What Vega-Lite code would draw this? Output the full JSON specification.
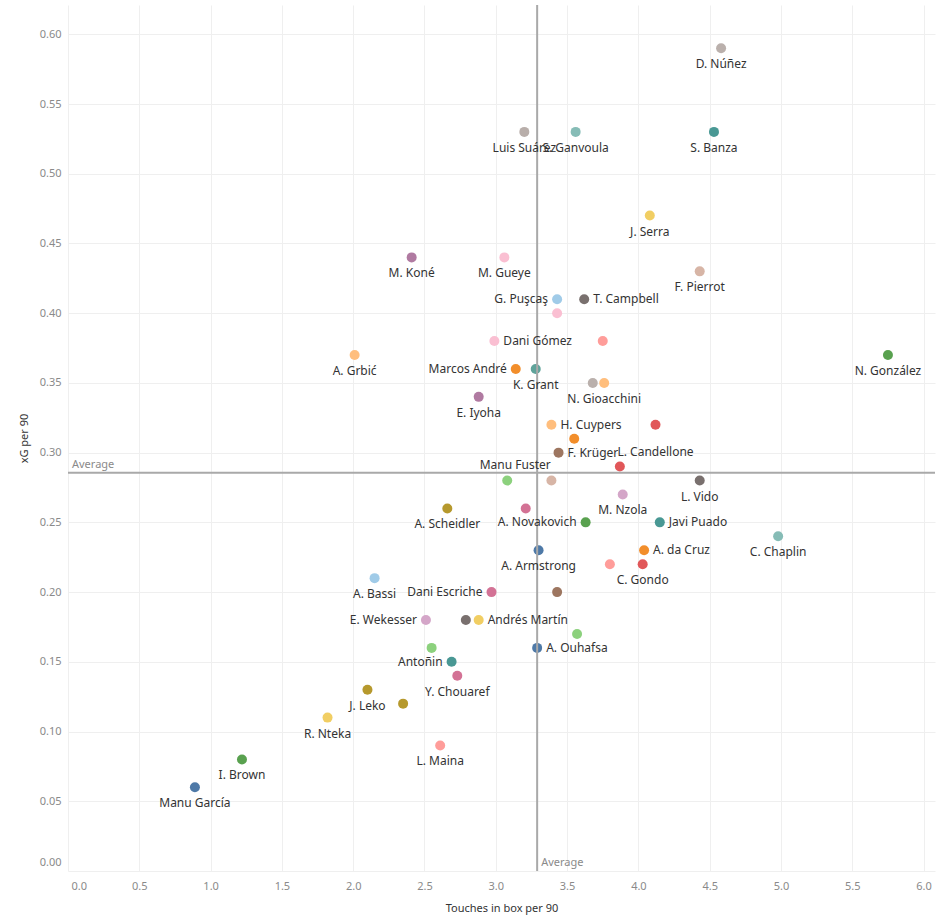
{
  "$schema": "https://vega.github.io/schema/vega-lite/v6.json",
  "width": 867,
  "height": 866,
  "autosize": "none",
  "padding": {"left": 68, "top": 5, "right": 10, "bottom": 53},
  "background": "white",
  "config": {"view": {"stroke": null}, "font": "Noto Sans"},
  "datasets": {
    "players": [
      {"id": 1, "label": "D. Núñez", "touches": 4.58, "xg": 0.59},
      {"id": 2, "label": "Luis Suárez", "touches": 3.20, "xg": 0.53},
      {"id": 3, "label": "S. Ganvoula", "touches": 3.56, "xg": 0.53},
      {"id": 4, "label": "S. Banza", "touches": 4.53, "xg": 0.53},
      {"id": 5, "label": "J. Serra", "touches": 4.08, "xg": 0.47},
      {"id": 6, "label": "M. Koné", "touches": 2.41, "xg": 0.44},
      {"id": 7, "label": "M. Gueye", "touches": 3.06, "xg": 0.44},
      {"id": 8, "label": "F. Pierrot", "touches": 4.43, "xg": 0.43},
      {"id": 9, "label": "G. Puşcaş", "touches": 3.43, "xg": 0.41},
      {"id": 10, "label": "T. Campbell", "touches": 3.62, "xg": 0.41},
      {"id": 11, "label": "", "touches": 3.43, "xg": 0.40},
      {"id": 12, "label": "Dani Gómez", "touches": 2.99, "xg": 0.38},
      {"id": 13, "label": "", "touches": 3.75, "xg": 0.38},
      {"id": 14, "label": "A. Grbić", "touches": 2.01, "xg": 0.37},
      {"id": 15, "label": "N. González", "touches": 5.75, "xg": 0.37},
      {"id": 16, "label": "Marcos André", "touches": 3.14, "xg": 0.36},
      {"id": 17, "label": "K. Grant", "touches": 3.28, "xg": 0.36},
      {"id": 18, "label": "", "touches": 3.68, "xg": 0.35},
      {"id": 19, "label": "N. Gioacchini", "touches": 3.76, "xg": 0.35},
      {"id": 20, "label": "E. Iyoha", "touches": 2.88, "xg": 0.34},
      {"id": 21, "label": "H. Cuypers", "touches": 3.39, "xg": 0.32},
      {"id": 22, "label": "L. Candellone", "touches": 4.12, "xg": 0.32},
      {"id": 23, "label": "", "touches": 3.55, "xg": 0.31},
      {"id": 24, "label": "F. Krüger", "touches": 3.44, "xg": 0.30},
      {"id": 25, "label": "", "touches": 3.87, "xg": 0.29},
      {"id": 26, "label": "Manu Fuster", "touches": 3.08, "xg": 0.28},
      {"id": 27, "label": "", "touches": 3.39, "xg": 0.28},
      {"id": 28, "label": "L. Vido", "touches": 4.43, "xg": 0.28},
      {"id": 29, "label": "M. Nzola", "touches": 3.89, "xg": 0.27},
      {"id": 30, "label": "A. Scheidler", "touches": 2.66, "xg": 0.26},
      {"id": 31, "label": "", "touches": 3.21, "xg": 0.26},
      {"id": 32, "label": "A. Novakovich", "touches": 3.63, "xg": 0.25},
      {"id": 33, "label": "Javi Puado", "touches": 4.15, "xg": 0.25},
      {"id": 34, "label": "C. Chaplin", "touches": 4.98, "xg": 0.24},
      {"id": 35, "label": "A. Armstrong", "touches": 3.30, "xg": 0.23},
      {"id": 36, "label": "A. da Cruz", "touches": 4.04, "xg": 0.23},
      {"id": 37, "label": "", "touches": 3.80, "xg": 0.22},
      {"id": 38, "label": "C. Gondo", "touches": 4.03, "xg": 0.22},
      {"id": 39, "label": "A. Bassi", "touches": 2.15, "xg": 0.21},
      {"id": 40, "label": "Dani Escriche", "touches": 2.97, "xg": 0.20},
      {"id": 41, "label": "", "touches": 3.43, "xg": 0.20},
      {"id": 42, "label": "E. Wekesser", "touches": 2.51, "xg": 0.18},
      {"id": 43, "label": "", "touches": 2.79, "xg": 0.18},
      {"id": 44, "label": "Andrés Martín", "touches": 2.88, "xg": 0.18},
      {"id": 45, "label": "", "touches": 3.57, "xg": 0.17},
      {"id": 46, "label": "A. Ouhafsa", "touches": 3.29, "xg": 0.16},
      {"id": 47, "label": "", "touches": 2.55, "xg": 0.16},
      {"id": 48, "label": "Antoñin", "touches": 2.69, "xg": 0.15},
      {"id": 49, "label": "Y. Chouaref", "touches": 2.73, "xg": 0.14},
      {"id": 50, "label": "J. Leko", "touches": 2.10, "xg": 0.13},
      {"id": 51, "label": "", "touches": 2.35, "xg": 0.12},
      {"id": 52, "label": "R. Nteka", "touches": 1.82, "xg": 0.11},
      {"id": 53, "label": "L. Maina", "touches": 2.61, "xg": 0.09},
      {"id": 54, "label": "I. Brown", "touches": 1.22, "xg": 0.08},
      {"id": 55, "label": "Manu García", "touches": 0.89, "xg": 0.06}
    ],
    "avg": [{"touches": 3.29, "xg": 0.2855}]
  },
  "layer": [
    {
      "data": {"name": "players"},
      "mark": {"type": "circle", "size": 100, "opacity": 1},
      "encoding": {
        "x": {
          "field": "touches", "type": "quantitative", "title": "Touches in box per 90",
          "scale": {"domain": [0, 6.08], "nice": false, "zero": false},
          "axis": {
            "values": [0, 0.5, 1, 1.5, 2, 2.5, 3, 3.5, 4, 4.5, 5, 5.5, 6],
            "format": ".1f", "grid": true, "gridColor": "#efefef", "domain": false, "ticks": false,
            "labelFlush": true, "labelFlushOffset": -3, "labelColor": "#8a8a8a", "labelFontSize": 11, "labelPadding": 9,
            "titleFontSize": 11, "titleFontWeight": "normal", "titleColor": "#333333", "titlePadding": 11
          }
        },
        "y": {
          "field": "xg", "type": "quantitative", "title": "xG per 90",
          "scale": {"domain": [0, 0.621], "nice": false, "zero": false},
          "axis": {
            "values": [0, 0.05, 0.1, 0.15, 0.2, 0.25, 0.3, 0.35, 0.4, 0.45, 0.5, 0.55, 0.6],
            "format": ".2f", "grid": true, "gridColor": "#efefef", "domain": false, "ticks": false,
            "labelFlush": true, "labelFlushOffset": -4, "labelColor": "#8a8a8a", "labelFontSize": 11, "labelPadding": 7,
            "titleFontSize": 11, "titleFontWeight": "normal", "titleColor": "#333333", "titlePadding": 10
          }
        },
        "color": {
          "field": "id", "type": "nominal", "legend": null,
          "scale": {
            "domain": [1,2,3,4,5,6,7,8,9,10,11,12,13,14,15,16,17,18,19,20,21,22,23,24,25,26,27,28,29,30,31,32,33,34,35,36,37,38,39,40,41,42,43,44,45,46,47,48,49,50,51,52,53,54,55],
            "range": ["#BAB0AC","#B8AEAA","#86BCB6","#499894","#F1CE63","#B07AA1","#FABFD2","#D7B5A6","#A0CBE8","#79706E","#FABFD2","#FABFD2","#FF9D9A","#FFBE7D","#59A14F","#F28E2B","#5FA39A","#BAB0AC","#FFBE7D","#B07AA1","#FFBE7D","#E15759","#F28E2B","#9D7660","#E15759","#8CD17D","#D7B5A6","#79706E","#D4A6C8","#B6992D","#D37295","#59A14F","#499894","#86BCB6","#4E79A7","#F28E2B","#FF9D9A","#E15759","#A0CBE8","#D37295","#9D7660","#D4A6C8","#79706E","#F1CE63","#8CD17D","#4E79A7","#8CD17D","#499894","#D37295","#B6992D","#B6992D","#F1CE63","#FF9D9A","#59A14F","#4E79A7"]
          }
        }
      }
    },
    {
      "data": {"name": "avg"},
      "mark": {"type": "rule", "color": "#a9a9a9", "strokeWidth": 2},
      "encoding": {"x": {"field": "touches", "type": "quantitative", "title": "Touches in box per 90"}}
    },
    {
      "data": {"name": "avg"},
      "mark": {"type": "rule", "color": "#a9a9a9", "strokeWidth": 2},
      "encoding": {"y": {"field": "xg", "type": "quantitative", "title": "xG per 90"}}
    },
    {
      "data": {"name": "avg"},
      "mark": {"type": "text", "text": "Average", "align": "left", "baseline": "bottom", "dx": 4, "dy": -3, "fontSize": 11, "color": "#8a8a8a"},
      "encoding": {
        "x": {"datum": 0, "type": "quantitative"},
        "y": {"field": "xg", "type": "quantitative", "title": "xG per 90"}
      }
    },
    {
      "data": {"name": "avg"},
      "mark": {"type": "text", "text": "Average", "align": "left", "baseline": "bottom", "dx": 4, "dy": -3, "fontSize": 11, "color": "#8a8a8a"},
      "encoding": {
        "x": {"field": "touches", "type": "quantitative", "title": "Touches in box per 90"},
        "y": {"datum": 0, "type": "quantitative"}
      }
    },
    {
      "data": {"name": "players"},
      "transform": [{"filter": {"field": "label", "oneOf": ["D. Núñez","Luis Suárez","S. Ganvoula","S. Banza","J. Serra","M. Koné","M. Gueye","F. Pierrot","A. Grbić","N. González","K. Grant","N. Gioacchini","E. Iyoha","L. Vido","M. Nzola","A. Scheidler","C. Chaplin","A. Armstrong","C. Gondo","A. Bassi","Y. Chouaref","J. Leko","R. Nteka","L. Maina","I. Brown","Manu García"]}}],
      "mark": {"type": "text", "align": "center", "baseline": "middle", "dy": 16, "fontSize": 12, "color": "#333333"},
      "encoding": {
        "x": {"field": "touches", "type": "quantitative", "title": "Touches in box per 90"},
        "y": {"field": "xg", "type": "quantitative", "title": "xG per 90"},
        "text": {"field": "label"}
      }
    },
    {
      "data": {"name": "players"},
      "transform": [{"filter": {"field": "label", "oneOf": ["L. Candellone"]}}],
      "mark": {"type": "text", "align": "center", "baseline": "middle", "dy": 27, "fontSize": 12, "color": "#333333"},
      "encoding": {
        "x": {"field": "touches", "type": "quantitative", "title": "Touches in box per 90"},
        "y": {"field": "xg", "type": "quantitative", "title": "xG per 90"},
        "text": {"field": "label"}
      }
    },
    {
      "data": {"name": "players"},
      "transform": [{"filter": {"field": "label", "oneOf": ["Manu Fuster"]}}],
      "mark": {"type": "text", "align": "center", "baseline": "middle", "dy": -16, "dx": 8, "fontSize": 12, "color": "#333333"},
      "encoding": {
        "x": {"field": "touches", "type": "quantitative", "title": "Touches in box per 90"},
        "y": {"field": "xg", "type": "quantitative", "title": "xG per 90"},
        "text": {"field": "label"}
      }
    },
    {
      "data": {"name": "players"},
      "transform": [{"filter": {"field": "label", "oneOf": ["G. Puşcaş","Marcos André","Dani Escriche","E. Wekesser","Antoñin","A. Novakovich"]}}],
      "mark": {"type": "text", "align": "right", "baseline": "middle", "dx": -9, "fontSize": 12, "color": "#333333"},
      "encoding": {
        "x": {"field": "touches", "type": "quantitative", "title": "Touches in box per 90"},
        "y": {"field": "xg", "type": "quantitative", "title": "xG per 90"},
        "text": {"field": "label"}
      }
    },
    {
      "data": {"name": "players"},
      "transform": [{"filter": {"field": "label", "oneOf": ["T. Campbell","Dani Gómez","H. Cuypers","F. Krüger","Javi Puado","A. da Cruz","Andrés Martín","A. Ouhafsa"]}}],
      "mark": {"type": "text", "align": "left", "baseline": "middle", "dx": 9, "fontSize": 12, "color": "#333333"},
      "encoding": {
        "x": {"field": "touches", "type": "quantitative", "title": "Touches in box per 90"},
        "y": {"field": "xg", "type": "quantitative", "title": "xG per 90"},
        "text": {"field": "label"}
      }
    }
  ]
}
